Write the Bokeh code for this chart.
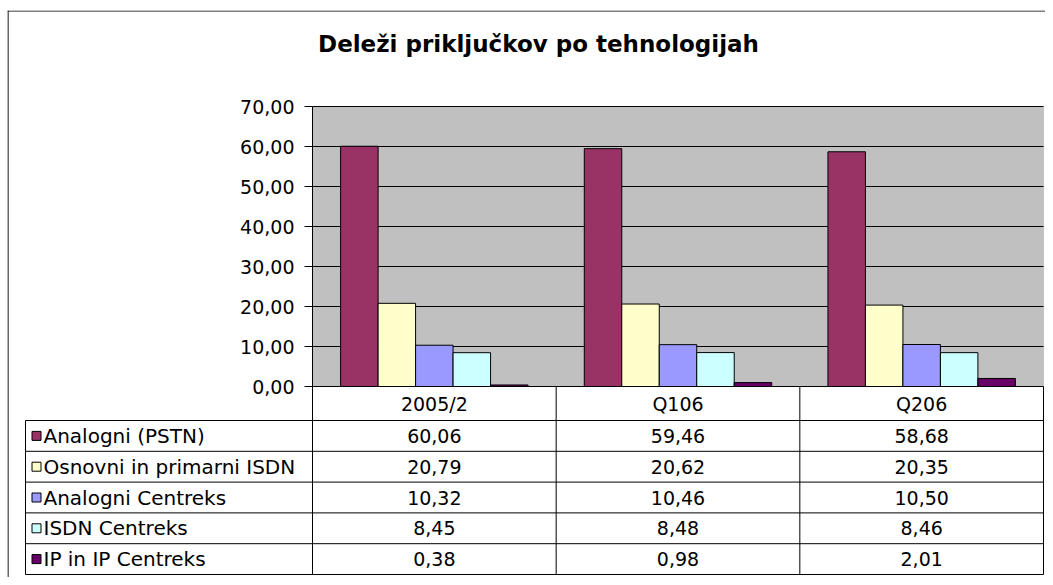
from bokeh.plotting import figure
from bokeh.models import (Range1d, FixedTicker, CustomJSTickFormatter, LinearAxis,
                          BoxAnnotation, Grid)
from bokeh.embed import file_html
from bokeh.resources import INLINE
from bokeh.core.properties import value

# ---------------- data ----------------
title_text = "Deleži priključkov po tehnologijah"
categories = ["2005/2", "Q106", "Q206"]
series_names = ["Analogni (PSTN)", "Osnovni in primarni ISDN", "Analogni Centreks",
                "ISDN Centreks", "IP in IP Centreks"]
analogni_pstn = [60.06, 59.46, 58.68]
osnovni_isdn = [20.79, 20.62, 20.35]
analogni_centreks = [10.32, 10.46, 10.50]
isdn_centreks = [8.45, 8.48, 8.46]
ip_centreks = [0.38, 0.98, 2.01]
y_ticks = [0, 10, 20, 30, 40, 50, 60, 70]
colors = ["#993366", "#FFFFCC", "#9999FF", "#CCFFFF", "#660066"]

series = [analogni_pstn, osnovni_isdn, analogni_centreks, isdn_centreks, ip_centreks]

FONT = "DejaVu Sans"
TXT = "19px"
LEG_TXT = "20px"

# ---------------- layout constants (canvas pixels) ----------------
W, H = 1045, 577
BORDER_L, BORDER_T = 7, 10
FRAME_L, FRAME_R = 312, 1043      # plot area
FRAME_T, FRAME_B = 106, 386
TABLE_L, HEADER_B, TABLE_B = 25, 420, 574
TITLE_CX, TITLE_CY = 538, 43

ncat = len(categories)
U = (FRAME_R - FRAME_L) / ncat                          # px per category
YPX = (FRAME_B - FRAME_T) / (y_ticks[-1] - y_ticks[0])  # px per y unit
HDR = (HEADER_B - FRAME_B) / YPX                        # header row height (y units)
ROW = (TABLE_B - HEADER_B) / len(series) / YPX          # table row height (y units)
L = (FRAME_L - TABLE_L) / U


def px_x(px):
    return (px - FRAME_L) / U


def px_y(py):
    return (FRAME_B - py) / YPX


def fmt(v):
    return f"{v:.2f}".replace(".", ",")


p = figure(width=W, height=H,
           x_range=Range1d(px_x(BORDER_L), px_x(W)),
           y_range=Range1d(px_y(H), px_y(BORDER_T)),
           output_backend="svg", toolbar_location=None,
           x_axis_location=None, y_axis_location=None,
           min_border_left=BORDER_L, min_border_right=0,
           min_border_top=BORDER_T, min_border_bottom=0)
p.background_fill_color = "white"
p.border_fill_color = "white"
p.outline_line_color = None
for gr in p.grid:
    gr.visible = False

# chart border (left and top; right/bottom lie beyond the picture)
p.segment(x0=[px_x(BORDER_L + 0.5), px_x(BORDER_L)], x1=[px_x(BORDER_L + 0.5), px_x(W)],
          y0=[px_y(H), px_y(BORDER_T + 0.5)], y1=[px_y(BORDER_T), px_y(BORDER_T + 0.5)],
          line_color="black", line_width=1.2)

# grey plot area
p.add_layout(BoxAnnotation(left=0, right=ncat, bottom=y_ticks[0], top=y_ticks[-1],
                           fill_color="#C0C0C0", fill_alpha=1,
                           line_color="#808080", line_width=1, level="image"))

# y axis at the plot area's left edge
yaxis = LinearAxis(fixed_location=0, bounds=(y_ticks[0], y_ticks[-1]),
                   ticker=FixedTicker(ticks=y_ticks),
                   formatter=CustomJSTickFormatter(code="return tick.toFixed(2).replace('.', ',');"))
yaxis.major_label_text_font = FONT
yaxis.major_label_text_font_size = TXT
yaxis.major_label_text_color = "black"
yaxis.major_tick_in = 0
yaxis.major_tick_out = 8
yaxis.minor_tick_in = 0
yaxis.minor_tick_out = 0
yaxis.major_label_standoff = 10
yaxis.axis_line_color = "black"
yaxis.major_tick_line_color = "black"
p.add_layout(yaxis, "left")

# horizontal gridlines
if "cross_bounds" in Grid.properties():
    g = Grid(dimension=1, ticker=FixedTicker(ticks=y_ticks), grid_line_color="black",
             grid_line_width=1, bounds=(y_ticks[0], y_ticks[-1]), cross_bounds=(0, ncat))
    p.add_layout(g)
else:
    p.segment(x0=[0] * len(y_ticks), x1=[ncat] * len(y_ticks), y0=y_ticks, y1=y_ticks,
              line_color="black", line_width=1)

# bars
bw = 1 / 6.5  # Excel gap width 150%
for j, (vals, col) in enumerate(zip(series, colors)):
    xs = [i + 0.5 + (j - 2) * bw for i in range(ncat)]
    p.vbar(x=xs, top=vals, bottom=0, width=bw, fill_color=col,
           line_color="black", line_width=1)

# title
p.text(x=[px_x(TITLE_CX)], y=[px_y(TITLE_CY)], text=[title_text],
       text_align="center", text_baseline="middle", text_font=value(FONT),
       text_font_style="bold", text_font_size="23px", text_color="black")

# ---------------- data table ----------------
row_lines = [-HDR - k * ROW for k in range(len(series) + 1)]
bottom = row_lines[-1]
p.segment(x0=[-L] * len(row_lines), x1=[ncat] * len(row_lines), y0=row_lines, y1=row_lines,
          line_color="black", line_width=1)
vx = list(range(ncat + 1))
p.segment(x0=vx, x1=vx, y0=[bottom] * len(vx), y1=[0] * len(vx),
          line_color="black", line_width=1)
p.segment(x0=[-L], x1=[-L], y0=[bottom], y1=[-HDR], line_color="black", line_width=1)

# header
p.text(x=[i + 0.5 for i in range(ncat)], y=[-HDR / 2] * ncat,
       text=categories, text_align="center", text_baseline="middle",
       text_font=value(FONT), text_font_size=TXT, text_color="black")

for j, (name, vals, col) in enumerate(zip(series_names, series, colors)):
    yrow = -HDR - (j + 0.5) * ROW
    p.text(x=[i + 0.5 for i in range(ncat)], y=[yrow] * ncat,
           text=[fmt(v) for v in vals], text_align="center", text_baseline="middle",
           text_font=value(FONT), text_font_size=TXT, text_color="black")
    p.scatter(x=[-L + 11 / U], y=[yrow], marker="square", size=9,
              fill_color=col, line_color="black", line_width=1)
    p.text(x=[-L + 18 / U], y=[yrow], text=[name], text_align="left",
           text_baseline="middle", text_font=value(FONT), text_font_size=LEG_TXT,
           text_color="black")

open("out.html", "w").write(file_html(p, INLINE))
